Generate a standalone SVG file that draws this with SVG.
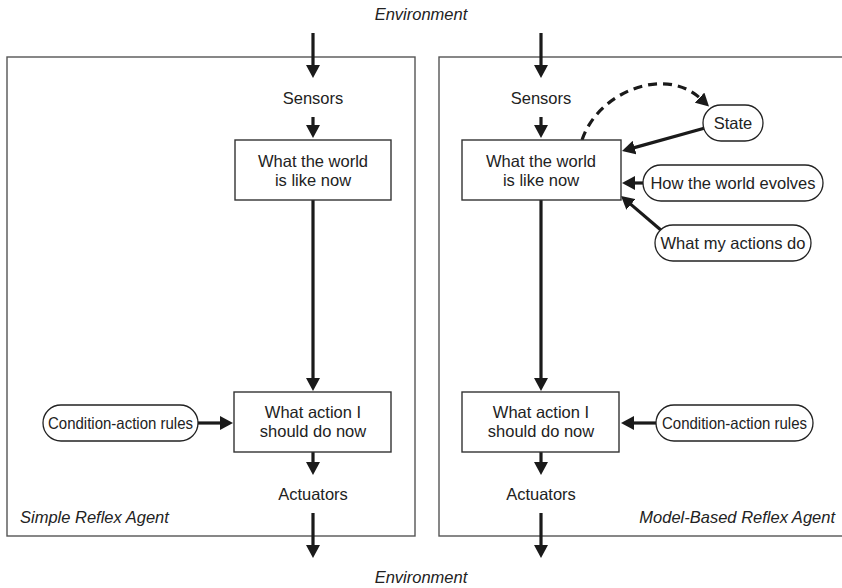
<svg xmlns="http://www.w3.org/2000/svg" width="842" height="588" viewBox="0 0 842 588">
<style>
text{font-family:"Liberation Sans",Arial,sans-serif;font-size:16.5px;fill:#222;}
.it{font-style:italic;}
.c{text-anchor:middle;}
.panel{fill:none;stroke:#555;stroke-width:1.4;}
.box{fill:#fff;stroke:#333;stroke-width:1.4;}
.pill{fill:#fff;stroke:#222;stroke-width:1.3;}
.ar{fill:none;stroke:#1a1a1a;stroke-width:3.2;marker-end:url(#ah);}
.dash{stroke-dasharray:9 6;}
</style>
<defs>
<marker id="ah" markerUnits="userSpaceOnUse" markerWidth="14" markerHeight="14" refX="2" refY="7" orient="auto"><path d="M0,0 L13,7 L0,14 z" fill="#1a1a1a"/></marker>
</defs>
<rect class="panel" x="7" y="57" width="408" height="479"/>
<rect class="panel" x="439" y="57" width="410" height="479"/>
<text class="it c" x="421" y="20">Environment</text>
<text class="it c" x="421" y="583">Environment</text>
<text class="it" x="20" y="523">Simple Reflex Agent</text>
<text class="it" x="835" y="523" text-anchor="end">Model-Based Reflex Agent</text>
<g id="connectors">
<line class="ar" x1="313" y1="33" x2="313" y2="67"/>
<line class="ar" x1="313" y1="117" x2="313" y2="127"/>
<line class="ar" x1="313" y1="200" x2="313" y2="380"/>
<line class="ar" x1="313" y1="452" x2="313" y2="464"/>
<line class="ar" x1="313" y1="513" x2="313" y2="547"/>
<line class="ar" x1="198" y1="423" x2="222" y2="423"/>
<line class="ar" x1="541" y1="33" x2="541" y2="67"/>
<line class="ar" x1="541" y1="117" x2="541" y2="127"/>
<line class="ar" x1="541" y1="200" x2="541" y2="380"/>
<line class="ar" x1="541" y1="452" x2="541" y2="464"/>
<line class="ar" x1="541" y1="513" x2="541" y2="547"/>
<line class="ar" x1="656" y1="423" x2="632" y2="423"/>
<line class="ar" x1="705" y1="128" x2="632.6" y2="148.1"/>
<line class="ar" x1="643" y1="183" x2="633" y2="183"/>
<line class="ar" x1="662" y1="231" x2="629.4" y2="203.1"/>
<path class="ar dash" d="M582,140 C598,92 665,65 701,99"/>
</g>
<g id="sensors-left"><text class="c" x="313" y="104">Sensors</text></g>
<g id="world-left"><rect class="box" x="235" y="140" width="156" height="60"/>
<text class="c" x="313" y="167">What the world</text><text class="c" x="313" y="186">is like now</text></g>
<g id="action-left"><rect class="box" x="234" y="392" width="157" height="60"/>
<text class="c" x="313" y="418">What action I</text><text class="c" x="313" y="437">should do now</text></g>
<g id="rules-left"><rect class="pill" x="43" y="405" width="155" height="36" rx="18"/>
<text class="c" x="120.5" y="429" textLength="145" lengthAdjust="spacingAndGlyphs">Condition-action rules</text></g>
<g id="actuators-left"><text class="c" x="313" y="500">Actuators</text></g>
<g id="sensors-right"><text class="c" x="541" y="104">Sensors</text></g>
<g id="world-right"><rect class="box" x="462" y="140" width="159" height="60"/>
<text class="c" x="541" y="167">What the world</text><text class="c" x="541" y="186">is like now</text></g>
<g id="action-right"><rect class="box" x="462" y="392" width="157" height="60"/>
<text class="c" x="541" y="418">What action I</text><text class="c" x="541" y="437">should do now</text></g>
<g id="rules-right"><rect class="pill" x="656" y="405" width="157" height="36" rx="18"/>
<text class="c" x="734.5" y="429" textLength="145" lengthAdjust="spacingAndGlyphs">Condition-action rules</text></g>
<g id="actuators-right"><text class="c" x="541" y="500">Actuators</text></g>
<g id="state"><rect class="pill" x="703" y="105" width="60" height="36" rx="18"/>
<text class="c" x="733" y="129">State</text></g>
<g id="evolves"><rect class="pill" x="643" y="165" width="180" height="36" rx="18"/>
<text class="c" x="733" y="189">How the world evolves</text></g>
<g id="actions"><rect class="pill" x="655" y="225" width="156" height="36" rx="18"/>
<text class="c" x="733" y="249">What my actions do</text></g>
</svg>
